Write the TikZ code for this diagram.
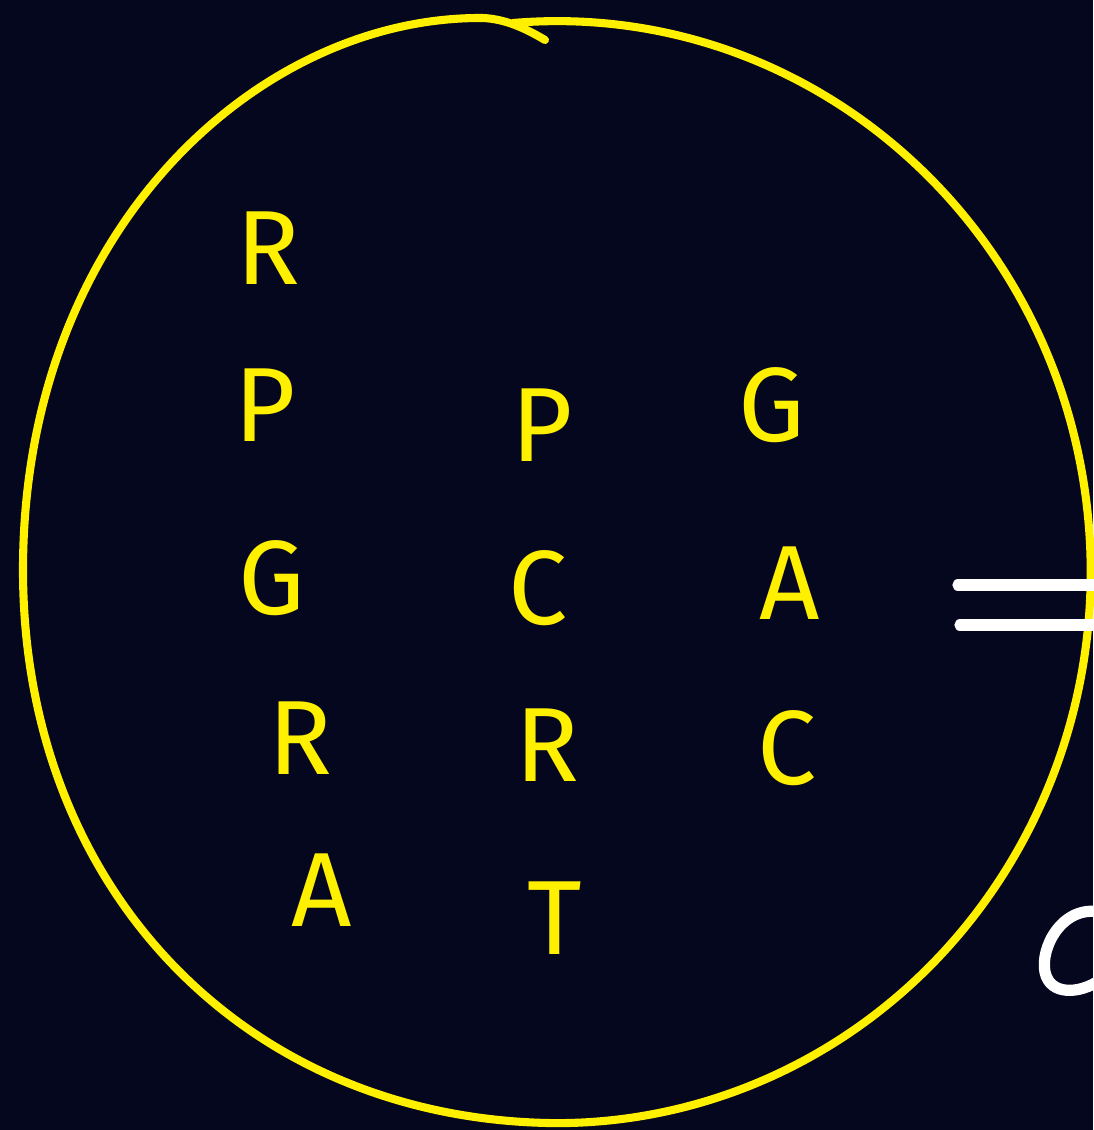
\documentclass[tikz,border=0pt]{standalone}
\usepackage{fontspec}
\setmainfont{Fira Sans}
\definecolor{bgnavy}{RGB}{5,7,30}
\definecolor{penyellow}{RGB}{255,240,0}

\begin{document}
\begin{tikzpicture}[x=0.01cm,y=-0.01cm,
  letter/.style={text=penyellow, font=\fontsize{30}{32}\selectfont},
  pen/.style={draw=penyellow, line width=2.3pt, line cap=round, line join=round},
  chalk/.style={draw=white, line width=3.2pt, line cap=round}]
  \fill[bgnavy] (0,0) rectangle (1093,1130);
  \useasboundingbox (0,0) rectangle (1093,1130);

  % the ring, with its little hook on top
  \coordinate (ringstart) at (513,23);
  \coordinate (ringleft) at (23,570);
  \coordinate (ringtop) at (483,18);
  \coordinate (hook) at (545,40);
  \draw[pen] (ringstart) arc[start angle=265.3, end angle=450,
    x radius=534, y radius=551]
    .. controls (247,1121) and (23,890) .. (ringleft)
    .. controls (23,228) and (260,16) .. (ringtop)
    .. controls (505,19) and (525,28) .. (hook);

  % first column
  \node[letter] (r1) at (268,248) {R};
  \node[letter] (p1) at (265,405) {P};
  \node[letter] (g1) at (272,578) {G};
  \node[letter] (r2) at (300,738) {R};
  \node[letter] (a1) at (322,890) {A};

  % second column
  \node[letter] (p2) at (542,425) {P};
  \node[letter] (c1) at (538,588) {C};
  \node[letter] (r3) at (547,745) {R};
  \node[letter] (t1) at (555,918) {T};

  % third column
  \node[letter] (g2) at (772,405) {G};
  \node[letter] (a2) at (790,583) {A};
  \node[letter] (c2) at (787,748) {C};

  % equals sign
  \coordinate (eqa) at (958,585);
  \coordinate (eqb) at (1100,585);
  \coordinate (eqc) at (960,625);
  \coordinate (eqd) at (1100,625);
  \draw[chalk] (eqa) -- (eqb);
  \draw[chalk] (eqc) -- (eqd);

  % cut-off letter
  \draw[chalk] (1100,912) .. controls (1062,905) and (1040,948) .. (1045,972)
    .. controls (1050,996) and (1080,994) .. (1100,980);
\end{tikzpicture}
\end{document}
